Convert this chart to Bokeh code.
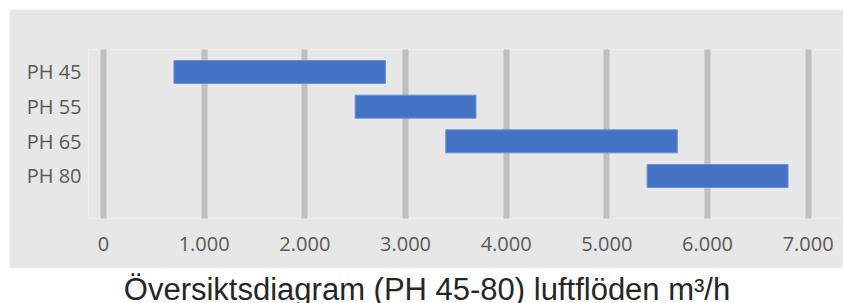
from bokeh.plotting import figure
from bokeh.models import Range1d, FixedTicker, Label
from bokeh.layouts import column
from bokeh.embed import file_html
from bokeh.resources import INLINE

# ---- data ----
categories = ["PH 45", "PH 55", "PH 65", "PH 80"]
flow_min = [700, 2500, 3400, 5400]
flow_max = [2800, 3700, 5700, 6800]
x_ticks = [0, 1000, 2000, 3000, 4000, 5000, 6000, 7000]
x_tick_labels = ["0", "1.000", "2.000", "3.000", "4.000", "5.000", "6.000", "7.000"]
title_text = "Översiktsdiagram (PH 45-80) luftflöden m³/h"

ypos = list(range(len(categories)))

BG = "#e7e7e7"
TXT = "#595959"

p = figure(width=834, height=259, output_backend="svg", toolbar_location=None,
           x_range=Range1d(-149, 7351), y_range=Range1d(4.226, -0.649),
           min_border_left=79, min_border_right=0, min_border_top=40, min_border_bottom=50)
p.background_fill_color = BG
p.border_fill_color = BG
p.outline_line_color = None

p.hbar(y=ypos, left=flow_min, right=flow_max, height=0.663,
       fill_color="#4472C4", line_color="#6e8fd3", line_width=1)

p.xaxis.ticker = FixedTicker(ticks=x_ticks)
p.xaxis.major_label_overrides = {t: l for t, l in zip(x_ticks, x_tick_labels)}
p.yaxis.ticker = FixedTicker(ticks=ypos)
p.yaxis.major_label_overrides = {i: c for i, c in zip(ypos, categories)}

for ax in (p.xaxis, p.yaxis):
    ax.axis_line_color = None
    ax.major_tick_line_color = None
    ax.minor_tick_line_color = None
    ax.major_label_text_font = "Open Sans"
    ax.major_label_text_font_size = "20px"
    ax.major_label_text_color = TXT
p.xaxis.major_label_standoff = 12
p.yaxis.major_label_standoff = 1

p.ygrid.grid_line_color = None
p.xgrid.grid_line_color = "#bfbfbf"
p.xgrid.grid_line_width = 6
p.xgrid.grid_line_cap = "round"

# title strip (its frame is aligned with the chart's frame in the column)
p2 = figure(width=834, height=35, output_backend="svg", toolbar_location=None,
            x_range=Range1d(0, 1), y_range=Range1d(0, 1),
            min_border_left=79, min_border_right=0, min_border_top=0, min_border_bottom=0)
p2.axis.visible = False
p2.grid.visible = False
p2.outline_line_color = None
p2.background_fill_color = "white"
p2.border_fill_color = "white"
p2.add_layout(Label(x=338.5, y=14, x_units="screen", y_units="screen", text=title_text,
                    text_align="center", text_baseline="alphabetic",
                    text_font="Liberation Sans", text_font_size="31px", text_color="#262626"))

layout = column(p, p2, spacing=0, margin=(9, 0, 0, 9))
open("out.html", "w").write(file_html(layout, INLINE))
